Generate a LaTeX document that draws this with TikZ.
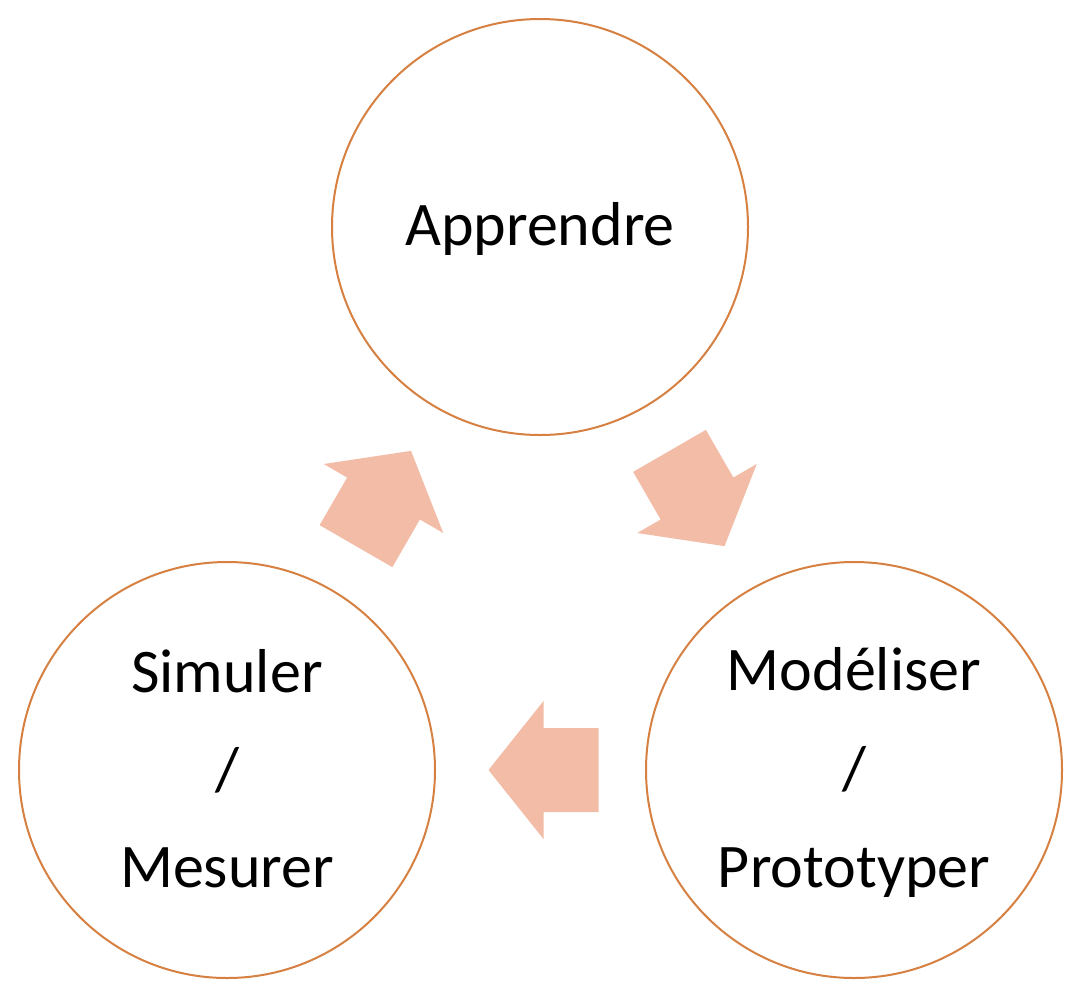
\documentclass[tikz,border=0pt]{standalone}
\usepackage{fontspec}
\setmainfont{Carlito}
\usetikzlibrary{calc}
\definecolor{ringcol}{RGB}{214,128,66}
\definecolor{arrowcol}{RGB}{242,188,166}
\begin{document}
\begin{tikzpicture}[x=1pt,y=-1pt,
  ring/.style={circle, draw=ringcol, line width=2pt, fill=white, minimum size=416pt, inner sep=0pt},
  lbl/.style={anchor=base, inner sep=0pt, font=\fontsize{62pt}{74pt}\selectfont, text=black},
  blockarrow/.style={fill=arrowcol}]
\useasboundingbox (0,0) rectangle (1070,994);
\fill[white] (0,0) rectangle (1070,994);
% circles
\node[ring] (T) at (540,227) {};
\node[ring] (L) at (227,770) {};
\node[ring] (R) at (854,770) {};
% texts
\node[lbl] (tT) at ($(T.center)+(0,18)$) {Apprendre};
\node[lbl] (tL1) at ($(L.center)+(0,-78)$) {Simuler};
\node[lbl] (tL2) at ($(L.center)+(0,20)$) {/};
\node[lbl] (tL3) at ($(L.center)+(0,117)$) {Mesurer};
\node[lbl] (tR1) at ($(R.center)+(0,-80)$) {Modéliser};
\node[lbl] (tR2) at ($(R.center)+(0,19)$) {/};
\node[lbl] (tR3) at ($(R.center)+(0,117)$) {Prototyper};
% block arrows
\begin{scope}[shift={($(T.center)!0.5!(R.center)$)}, rotate=-60]
  \fill[blockarrow] (-55,-42) -- (0,-42) -- (0,-69) -- (55,0) -- (0,69) -- (0,42) -- (-55,42) -- cycle;
\end{scope}
\begin{scope}[shift={($(R.center)!0.5!(L.center)+(3,0)$)}, rotate=180]
  \fill[blockarrow] (-55,-42) -- (0,-42) -- (0,-69) -- (55,0) -- (0,69) -- (0,42) -- (-55,42) -- cycle;
\end{scope}
\begin{scope}[shift={($(L.center)!0.5!(T.center)$)}, rotate=60]
  \fill[blockarrow] (-55,-42) -- (0,-42) -- (0,-69) -- (55,0) -- (0,69) -- (0,42) -- (-55,42) -- cycle;
\end{scope}
\end{tikzpicture}
\end{document}
